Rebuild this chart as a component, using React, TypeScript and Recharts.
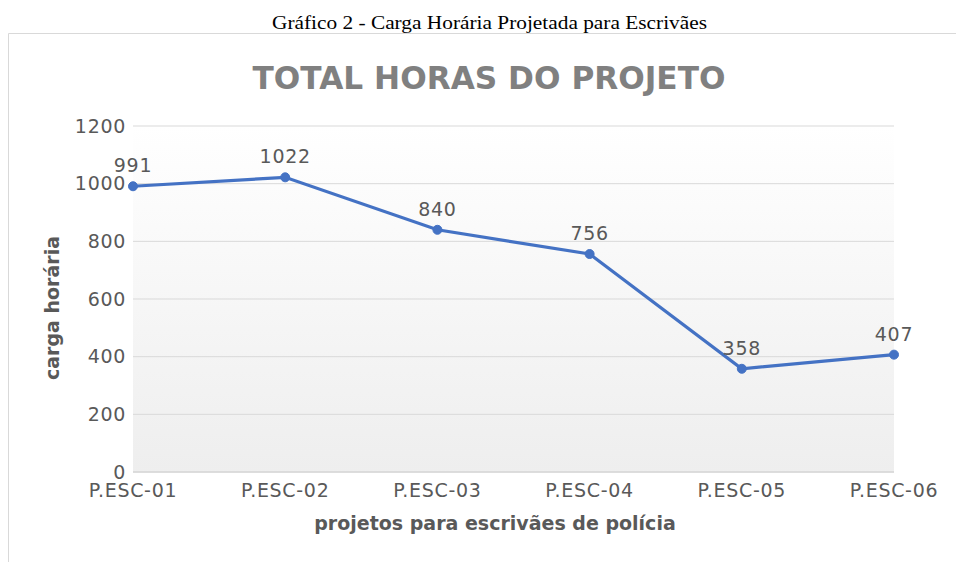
import { LineChart, Line, XAxis, YAxis, CartesianGrid, LabelList } from 'recharts';

const projetos = ['P.ESC-01', 'P.ESC-02', 'P.ESC-03', 'P.ESC-04', 'P.ESC-05', 'P.ESC-06'];
const horas = [991, 1022, 840, 756, 358, 407];
const yTicks = [0, 200, 400, 600, 800, 1000, 1200];

const data = projetos.map((p, i) => ({ projeto: p, horas: horas[i] }));

const FONT = '"DejaVu Sans", sans-serif';
const GREY = '#595959';
const tickStyle = { fontFamily: FONT, fontSize: 19, fill: GREY, letterSpacing: 0.7 };

export default function App() {
  return (
    <div style={{ position: 'absolute', left: 0, top: 0, width: 956, height: 562, overflow: 'hidden', background: '#fff' }}>
      <svg width={956} height={562} style={{ position: 'absolute', left: 0, top: 0 }}>
        <line x1={8.5} y1={33.5} x2={956} y2={33.5} stroke="#d9d9d9" />
        <line x1={8.5} y1={33.5} x2={8.5} y2={562} stroke="#d9d9d9" />
        <text
          x={489.5}
          y={29}
          textAnchor="middle"
          fontFamily='"Liberation Serif", serif'
          fontSize={19.5}
          textLength={435}
          lengthAdjust="spacingAndGlyphs"
          fill="#000"
        >
          Gráfico 2 - Carga Horária Projetada para Escrivães
        </text>
        <text x={489} y={89} textAnchor="middle" fontFamily={FONT} fontWeight="bold" fontSize={31.2} fill="#808080">
          TOTAL HORAS DO PROJETO
        </text>
        <text x={495} y={530} textAnchor="middle" fontFamily={FONT} fontWeight="bold" fontSize={19} fill={GREY}>
          projetos para escrivães de polícia
        </text>
        <text x={59} y={308} textAnchor="middle" transform="rotate(-90 59 308)" fontFamily={FONT} fontWeight="bold" fontSize={19} fill={GREY}>
          carga horária
        </text>
      </svg>
      <div style={{ position: 'absolute', left: 0, top: 0 }}>
        <LineChart width={956} height={562} data={data} margin={{ top: 126, right: 62, bottom: 50, left: 73 }}>
          <defs>
            <linearGradient id="plotBg" x1="0" y1="0" x2="0" y2="1">
              <stop offset="0%" stopColor="#ffffff" />
              <stop offset="100%" stopColor="#eeeeee" />
            </linearGradient>
          </defs>
          <CartesianGrid vertical={false} stroke="#d9d9d9" fill="url(#plotBg)" />
          <XAxis
            dataKey="projeto"
            height={40}
            tickLine={false}
            tickSize={0}
            tickMargin={12}
            axisLine={{ stroke: '#d9d9d9', strokeWidth: 1.5 }}
            tick={tickStyle}
            interval={0}
          />
          <YAxis
            width={60}
            domain={[0, 1200]}
            ticks={yTicks}
            tickLine={false}
            axisLine={false}
            tickSize={0}
            tickMargin={7}
            tick={tickStyle}
          />
          <Line
            type="linear"
            dataKey="horas"
            stroke="#4472C4"
            strokeWidth={3.2}
            dot={{ r: 4.5, fill: '#4472C4', stroke: '#4472C4', strokeWidth: 1 }}
            isAnimationActive={false}
          >
            <LabelList dataKey="horas" position="top" offset={14} style={tickStyle} />
          </Line>
        </LineChart>
      </div>
    </div>
  );
}
